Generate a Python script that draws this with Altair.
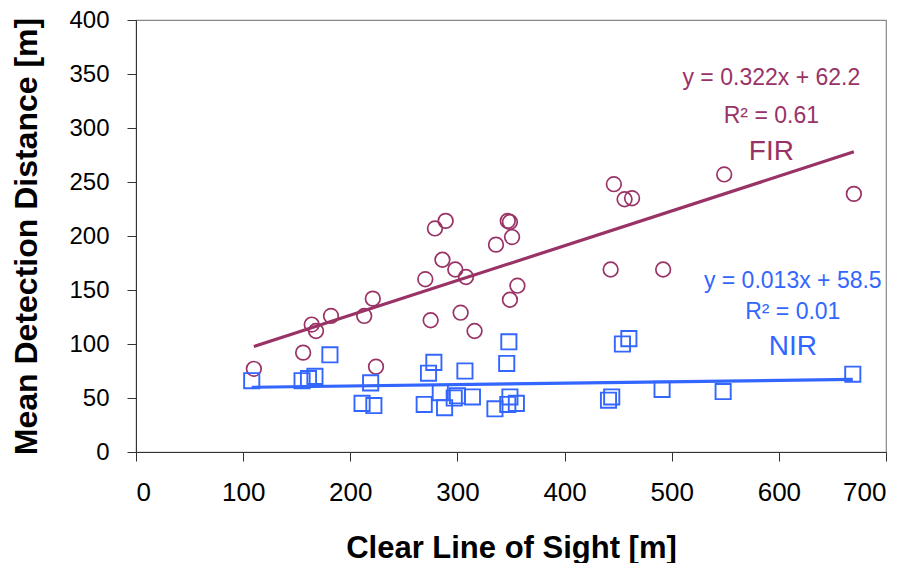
import altair as alt
import pandas as pd

# ---- data ----
fir_x = [110, 156, 164, 168, 182, 213, 221, 224, 270, 275, 279, 286, 289, 298, 303,
         308, 316, 336, 347, 349, 349, 351, 356, 443, 446, 456, 463, 492, 549, 670]
fir_y = [77, 92, 118, 112, 126, 126, 142, 79, 160, 122, 207, 178, 214, 169, 129,
         162, 112, 192, 214, 213, 141, 199, 154, 169, 248, 234, 235, 169, 257, 239]

nir_x = [108, 155, 161, 167, 181, 211, 219, 222, 269, 273, 278, 284, 288, 297, 300,
         307, 314, 335, 346, 348, 347, 349, 355, 441, 444, 454, 460, 491, 548, 669]
nir_y = [66, 66, 68, 70, 90, 45, 64, 43, 44, 73, 83, 55, 41, 50, 52,
         75, 51, 40, 82, 102, 44, 51, 45, 48, 51, 100, 105, 58, 56, 72]

series_names = ["FIR", "NIR"]
slopes = [0.322, 0.013]
intercepts = [62.2, 58.5]
r2_values = ["0.61", "0.01"]
colors = ["#993366", "#3366FF"]

x_ticks = [0, 100, 200, 300, 400, 500, 600, 700]
y_ticks = [0, 50, 100, 150, 200, 250, 300, 350, 400]

# annotation anchor points (data units)
ann_x = [593, 613]
ann_y_eq = [346, 158]
ann_y_r2 = [311, 130]
ann_y_name = [278, 97]

# ---- tables ----
fir = pd.DataFrame({"x": fir_x, "y": fir_y, "series": "FIR"})
nir = pd.DataFrame({"x": nir_x, "y": nir_y, "series": "NIR"})

trend_rows = []
for name, xs, m, b in zip(series_names, [fir_x, nir_x], slopes, intercepts):
    for xv in (min(xs), max(xs)):
        trend_rows.append({"series": name, "x": xv, "y": m * xv + b})
trend = pd.DataFrame(trend_rows)

ann_rows = []
for i, name in enumerate(series_names):
    ann_rows.append({"series": name, "x": ann_x[i], "y": ann_y_eq[i],
                     "text": f"y = {slopes[i]:.3f}x + {intercepts[i]}", "kind": "eq"})
    ann_rows.append({"series": name, "x": ann_x[i], "y": ann_y_r2[i],
                     "text": f"R\u00b2 = {r2_values[i]}", "kind": "r2"})
    ann_rows.append({"series": name, "x": ann_x[i], "y": ann_y_name[i],
                     "text": name, "kind": "name"})
ann = pd.DataFrame(ann_rows)

FONT = "Liberation Sans"

xscale = alt.Scale(domain=[0, 700], nice=False, zero=False)
yscale = alt.Scale(domain=[0, 400], nice=False, zero=False)
cscale = alt.Scale(domain=series_names, range=colors)

xaxis = alt.Axis(values=x_ticks, grid=False, title="Clear Line of Sight [m]",
                 titleFont=FONT, titleFontSize=31, titleFontWeight="bold", titleColor="black",
                 labelFont=FONT, labelFontSize=26, labelColor="black", labelPadding=18,
                 domainColor="#333333", tickColor="#333333", tickSize=9,
                 titleX=375, titleY=105, titleBaseline="alphabetic", titleAlign="center")
yaxis = alt.Axis(values=y_ticks, grid=False, title="Mean Detection Distance [m]",
                 titleFont=FONT, titleFontSize=32, titleFontWeight="bold", titleColor="black",
                 labelFont=FONT, labelFontSize=24, labelColor="black", labelPadding=18,
                 domainColor="#333333", tickColor="#333333", tickSize=9,
                 titleX=-110, titleY=216, titleBaseline="middle", titleAlign="center",
                 titleAngle=270)

base_x = alt.X("x:Q", scale=xscale, axis=xaxis)
base_y = alt.Y("y:Q", scale=yscale, axis=yaxis)

fir_pts = alt.Chart(fir).mark_point(shape="circle", filled=False, size=215, strokeWidth=1.7,
                                    opacity=1, color=colors[0]).encode(x=base_x, y=base_y)
nir_pts = alt.Chart(nir).mark_point(shape="square", filled=False, size=230, strokeWidth=1.9,
                                    opacity=1, color=colors[1]).encode(x="x:Q", y="y:Q")

lines = alt.Chart(trend).mark_line(strokeWidth=3.2).encode(
    x="x:Q", y="y:Q",
    color=alt.Color("series:N", scale=cscale, legend=None),
    detail="series:N")

eq_text = alt.Chart(ann[ann.kind != "name"]).mark_text(font=FONT, fontSize=23, align="center",
                                                       baseline="middle").encode(
    x="x:Q", y="y:Q", text="text:N",
    color=alt.Color("series:N", scale=cscale, legend=None))
name_text = alt.Chart(ann[ann.kind == "name"]).mark_text(font=FONT, fontSize=28, align="center",
                                                         baseline="middle").encode(
    x="x:Q", y="y:Q", text="text:N",
    color=alt.Color("series:N", scale=cscale, legend=None))

chart = alt.layer(fir_pts, nir_pts, lines, eq_text, name_text).properties(
    width=750, height=432,
    autosize=alt.AutoSizeParams(type="none"),
    padding={"left": 128, "top": 12, "right": 20, "bottom": 111},
    background="white",
).configure_view(stroke="#888888", strokeWidth=1.2)

chart.save("out.html", embed_options={"renderer": "svg", "actions": False})
